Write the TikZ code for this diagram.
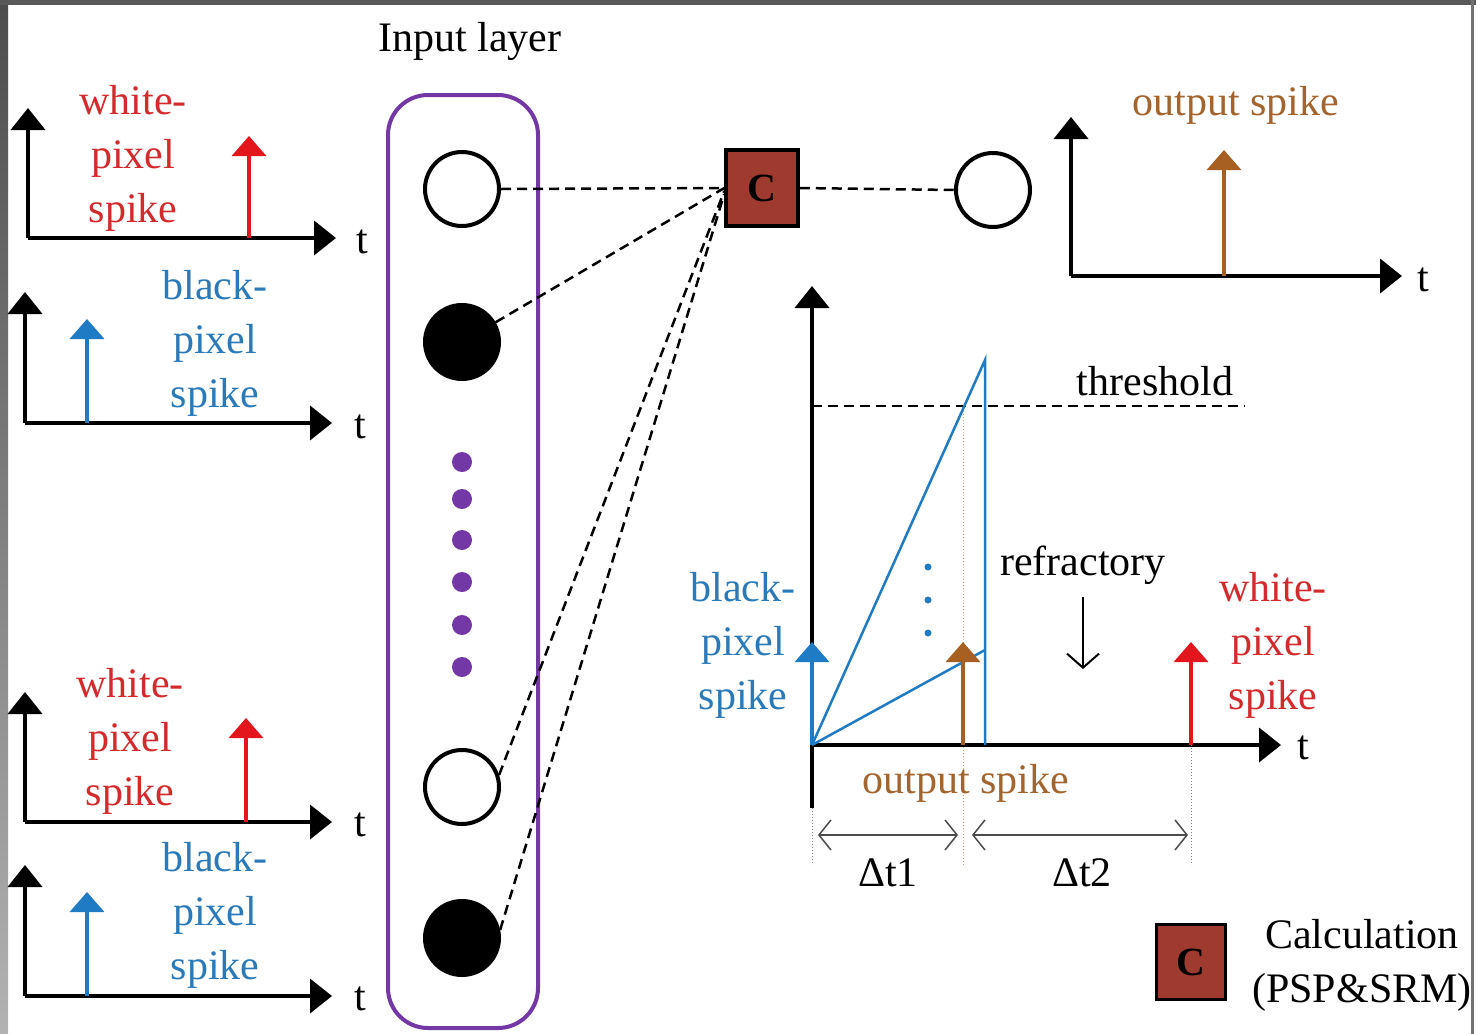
\documentclass[tikz,border=0pt]{standalone}
\usepackage{fontspec}
\setmainfont{Liberation Serif}
\usetikzlibrary{arrows.meta,calc}
\definecolor{cred}{HTML}{E3161E}
\definecolor{tred}{HTML}{D42A2C}
\definecolor{cblue}{HTML}{1F7BC4}
\definecolor{tblue}{HTML}{2A7AB9}
\definecolor{cbrown}{HTML}{A85F22}
\definecolor{tbrown}{HTML}{A3642E}
\definecolor{cpurple}{HTML}{7438A6}
\definecolor{cbox}{HTML}{9E3A2E}
\begin{document}
\begin{tikzpicture}[x=1pt,y=-1pt,
  lbl/.style={font=\fontsize{42}{54}\selectfont, align=center, inner sep=0pt},
  axis/.style={line width=4pt, -{Triangle[width=34pt,length=22pt]}},
  spk/.style={line width=3.5pt, -{Triangle[width=34pt,length=20pt]}},
  dsh/.style={line width=2.5pt, dash pattern=on 10pt off 6pt},
  neuron/.style={circle, draw, line width=4pt, minimum size=74pt, inner sep=0pt},
  pdot/.style={circle, fill=cpurple, minimum size=20pt, inner sep=0pt},
  cbx/.style={draw, line width=3.5pt, fill=cbox, inner sep=0pt, font=\fontsize{40}{40}\selectfont\bfseries},
  dimline/.style={line width=1.5pt, draw=black!70, {Straight Barb[length=12pt,width=30pt]}-{Straight Barb[length=12pt,width=30pt]}},
  vdot/.style={line width=1pt, draw=black!50, dotted},
  bl/.style={line width=2.5pt, draw=cblue}
]
\useasboundingbox (0,0) rectangle (1476,1034);
\fill[white] (0,0) rectangle (1476,1034);
\shade[top color=black!70, bottom color=black!30] (0,0) rectangle (8,1034);
\fill[black!65] (0,0) rectangle (1476,5);
\fill[black!55] (1471,0) rectangle (1474,1034);

% ---------- input spike trains (left) ----------
% graph 1
\coordinate (o1) at (28,238);
\draw[axis] (o1) -- (28,108);
\draw[axis] (o1) -- (336,238);
\node[lbl] (t1) at (362,242) {t};
\draw[spk, cred] (249,238) -- (249,136);
\node[lbl, text=tred] (w1) at (133,158) {white-\\pixel\\spike};
% graph 2
\coordinate (o2) at (25,423);
\draw[axis] (o2) -- (25,292);
\draw[axis] (o2) -- (332,423);
\node[lbl] (t2) at (360,427) {t};
\draw[spk, cblue] (87,423) -- (87,319);
\node[lbl, text=tblue] (b2) at (215,343) {black-\\pixel\\spike};
% graph 3
\coordinate (o3) at (25,822);
\draw[axis] (o3) -- (25,692);
\draw[axis] (o3) -- (332,822);
\node[lbl] (t3) at (360,825) {t};
\draw[spk, cred] (246,822) -- (246,718);
\node[lbl, text=tred] (w3) at (130,741) {white-\\pixel\\spike};
% graph 4
\coordinate (o4) at (25,996);
\draw[axis] (o4) -- (25,865);
\draw[axis] (o4) -- (332,996);
\node[lbl] (t4) at (360,999) {t};
\draw[spk, cblue] (87,996) -- (87,892);
\node[lbl, text=tblue] (b4) at (215,915) {black-\\pixel\\spike};

% ---------- input layer ----------
\node[lbl] (il) at (470,41) {Input layer};
\draw[cpurple, line width=4pt, rounded corners=40pt] (388,95) rectangle (538,1028);
\node[neuron] (n1) at (462,189) {};
\node[neuron, fill=black] (n2) at (462,342) {};
\foreach \yy [count=\i] in {462,499,540,582,625,667} \node[pdot] (d\i) at (462,\yy) {};
\node[neuron] (n3) at (462,787) {};
\node[neuron, fill=black] (n4) at (462,938) {};

% ---------- calculation and output neuron ----------
\node[cbx, minimum width=72pt, minimum height=76pt] (C) at (762,188) {C};
\node[neuron] (out) at (993,190) {};
\draw[dsh] (n1.east) -- (C.west);
\draw[dsh] (n2) -- (C.west);
\draw[dsh] (n3.18) -- ($(C.west)+(0,3)$);
\draw[dsh] (n4.12) -- ($(C.west)+(0,6)$);
\draw[dsh] (C.east) -- (out.west);

% ---------- output spike graph ----------
\coordinate (o5) at (1071,276);
\draw[axis] (o5) -- (1071,117);
\draw[axis] (o5) -- (1402,276);
\node[lbl] (t5) at (1423,280) {t};
\draw[spk, cbrown] (1224,276) -- (1224,150);
\node[lbl, text=tbrown] (os1) at (1236,105) {output spike};

% ---------- membrane potential graph ----------
\coordinate (O) at (812,745);
\draw[line width=4pt] (O) -- (812,808);
\draw[axis] (O) -- (812,286);
\draw[axis] (O) -- (1281,745);
\node[lbl] (t6) at (1303,748) {t};
\draw[dsh, line width=2pt] (812,406) -- (1245,406);
\node[lbl] (th) at (1155,381) {threshold};
\draw[vdot, draw=orange!60!black!50] (963,408) -- (963,865);
\draw[vdot] (812,808) -- (812,865);
\draw[vdot] (1191,745) -- (1191,865);
\draw[bl] (O) -- (985,360) -- (985,745);
\draw[bl] (O) -- (985,650);
\foreach \yy [count=\i] in {567,600,633} \fill[cblue] (928,\yy) circle (3.5pt);
\draw[spk, cblue] (O) -- (812,642);
\draw[spk, cbrown] (963,745) -- (963,642);
\draw[spk, cred] (1191,745) -- (1191,642);
\node[lbl, text=tblue] (b6) at (743,645) {black-\\pixel\\spike};
\node[lbl] (rf) at (1083,565) {refractory};
\draw[line width=2pt, -{Straight Barb[length=14pt,width=32pt]}] (1083,597) -- (1083,669);
\node[lbl, text=tred] (w6) at (1273,645) {white-\\pixel\\spike};
\node[lbl, text=tbrown] (os2) at (966,783) {output spike};
\draw[dimline] (818,835) -- (958,835);
\draw[dimline] (972,835) -- (1188,835);
\node[lbl] (dt1) at (888,873) {Δt1};
\node[lbl] (dt2) at (1082,873) {Δt2};

% ---------- legend ----------
\node[cbx, minimum width=69pt, minimum height=75pt] (Cl) at (1191,962) {C};
\node[lbl] (leg) at (1362,965) {Calculation\\(PSP\&SRM)};
\end{tikzpicture}
\end{document}
